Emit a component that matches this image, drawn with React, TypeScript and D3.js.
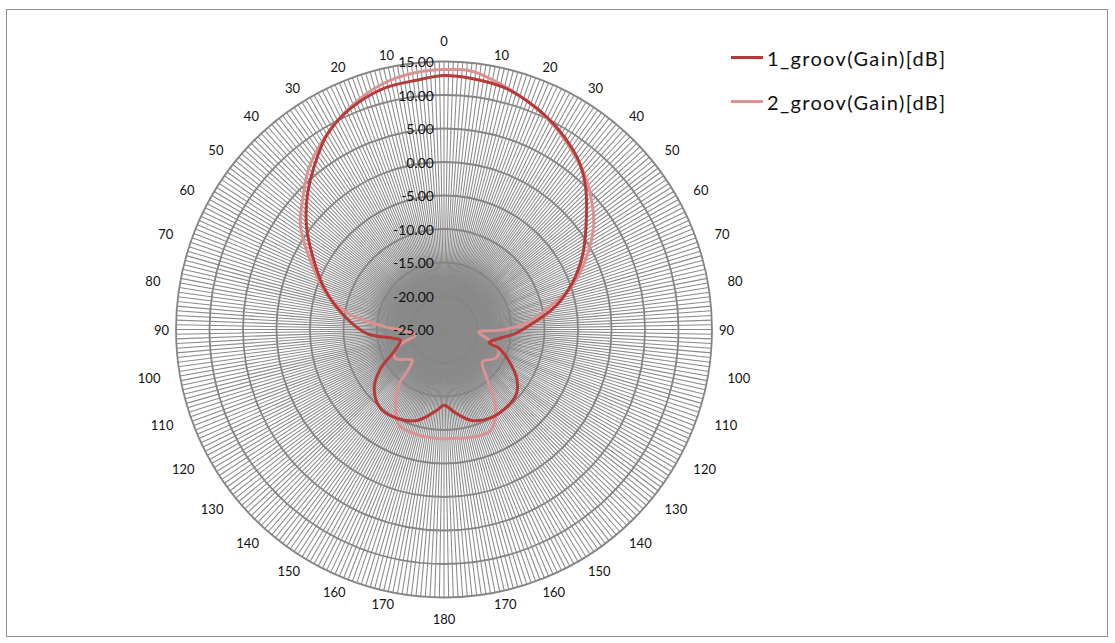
import React from "react";
import * as d3 from "d3";

// ---- data ----
const categoryCount = 360; // one spoke per degree
const ringValues = [-25, -20, -15, -10, -5, 0, 5, 10, 15];
const labelStep = 10;

// series 1: 1_groov(Gain)[dB]
const angles1 = [0, 6, 14, 20, 26, 32, 39, 45, 54, 62, 70, 78, 85, 93, 102, 106, 109, 116, 124, 132, 142, 153, 163, 172, 180, 185, 196, 208, 219, 230, 238.5, 246, 256, 260, 267, 278, 289, 299.5, 307, 314.5, 322, 329, 337, 346, 354];
const gain1 = [12.9, 12.7, 12.2, 11.3, 10.2, 8.9, 7.1, 4.9, 1.2, -1.6, -4.6, -7.9, -11.3, -14.3, -17.4, -18.0, -16.3, -14.2, -11.9, -10.5, -10.1, -10.1, -10.8, -12.4, -13.7, -12.9, -10.9, -10.0, -9.9, -11.4, -13.9, -16.8, -18.3, -17.4, -13.5, -9.9, -6.1, -2.4, 0.7, 3.6, 6.3, 8.9, 10.8, 12.1, 12.45];

// series 2: 2_groov(Gain)[dB]
const angles2 = [0, 6, 14, 22.5, 29, 36, 43, 50, 55.5, 62.5, 71, 77, 85, 90.5, 94.5, 103, 112, 119, 130, 137.5, 144, 150, 156, 165, 177, 182, 194, 205, 210.5, 219, 222, 226, 239, 246, 253, 259, 273, 279, 286.5, 299, 306, 313, 320, 328, 337, 346, 354];
const gain2 = [13.8, 13.8, 12.4, 10.8, 9.4, 7.7, 6.0, 3.9, 2.1, -0.9, -4.7, -8.4, -12.3, -16.3, -19.8, -18.1, -16.1, -16.2, -17.5, -15.8, -12.3, -9.7, -8.3, -8.4, -8.7, -8.7, -8.8, -9.2, -10.8, -14.3, -17.2, -18.4, -16.6, -16.8, -18.8, -20.7, -16.0, -10.9, -6.8, -1.8, 1.5, 3.8, 6.4, 8.7, 11.0, 12.8, 13.6];

const seriesNames = ["1_groov(Gain)[dB]", "2_groov(Gain)[dB]"];
const seriesColors = ["#B63A3A", "#DA9392"];

// ---- layout ----
const W = 1115;
const H = 643;
const cx = 444;
const cy = 329.5;
const R = 268;
const FONT = "Lato, 'Open Sans', sans-serif";

export default function App() {
  const r = d3.scaleLinear().domain([-25, 15]).range([0, R]);
  const ang = (deg: number) => (deg * Math.PI) / 180;

  const cats = d3.range(categoryCount);
  const s1 = angles1.map((a, i) => ({ a, v: gain1[i] }));
  const s2 = angles2.map((a, i) => ({ a, v: gain2[i] }));
  const line = d3
    .lineRadial<{ a: number; v: number }>()
    .angle((d) => ang(d.a))
    .radius((d) => r(d.v))
    .curve(d3.curveCatmullRomClosed.alpha(0.5));

  const labelCats = cats.filter((c) => c % labelStep === 0);
  const hub = r(-13); // where the dense spokes merge into solid grey

  return (
    <svg
      width={W}
      height={H}
      style={{ position: "absolute", left: 0, top: 0, background: "#fff" }}
      fontFamily={FONT}
    >
      <defs>
        <radialGradient id="hub" cx="0" cy="0" r={hub} gradientUnits="userSpaceOnUse">
          <stop offset="0" stopColor="#8a8a8a" stopOpacity={1} />
          <stop offset="0.55" stopColor="#8a8a8a" stopOpacity={1} />
          <stop offset="0.8" stopColor="#8a8a8a" stopOpacity={0.6} />
          <stop offset="1" stopColor="#8a8a8a" stopOpacity={0} />
        </radialGradient>
      </defs>
      <rect x={6.5} y={9.5} width={1101} height={627} fill="#fff" stroke="#8e8e8e" strokeWidth={1} />
      <g transform={`translate(${cx},${cy})`}>
        <circle r={hub} fill="url(#hub)" />
        {cats.map((c) => {
          const a = ang(c);
          return (
            <line
              key={"s" + c}
              x1={0}
              y1={0}
              x2={R * Math.sin(a)}
              y2={-R * Math.cos(a)}
              stroke="#8a8a8a"
              strokeWidth={1.05}
            />
          );
        })}
        {ringValues
          .filter((v) => r(v) > 0)
          .map((v) => (
            <circle key={"r" + v} r={r(v)} fill="none" stroke="#858585" strokeWidth={1.8} />
          ))}
        <path d={line(s2) || ""} fill="none" stroke={seriesColors[1]} strokeWidth={3} strokeLinejoin="round" />
        <path d={line(s1) || ""} fill="none" stroke={seriesColors[0]} strokeWidth={3} strokeLinejoin="round" />
        {ringValues.map((v) => (
          <text
            key={"v" + v}
            x={-10}
            y={-r(v)}
            textAnchor="end"
            dominantBaseline="central"
            fontSize={14}
            fill="#111"
          >
            {v.toFixed(2)}
          </text>
        ))}
        {labelCats.map((c) => {
          const a = ang(c);
          const s = Math.sin(a);
          const co = Math.cos(a);
          const lbl = c <= 180 ? c : 360 - c;
          const w = String(lbl).length * 7.5;
          const side = Math.abs(s) < 0.01 ? 0 : Math.sign(s);
          let px: number;
          let py: number;
          if (side === 0) {
            px = 0;
            py = -co * (R + 21);
          } else if (Math.abs(co) < 0.01) {
            px = side * (R + 7 + w / 2);
            py = 0;
          } else {
            px = (R + 20) * s + side * (w / 2);
            py = -(R + 11) * co;
          }
          return (
            <text
              key={"c" + c}
              x={px}
              y={py}
              textAnchor="middle"
              dominantBaseline="central"
              fontSize={13}
              fill="#111"
            >
              {lbl}
            </text>
          );
        })}
      </g>
      {seriesNames.map((n, i) => (
        <g key={n} transform={`translate(731,${57.5 + i * 44})`}>
          <line x1={0} x2={32} y1={0} y2={0} stroke={seriesColors[i]} strokeWidth={3} />
          <text
            x={36}
            y={0}
            dominantBaseline="central"
            fontSize={20}
            fill="#111"
            textLength={178}
            lengthAdjust="spacing"
          >
            {n}
          </text>
        </g>
      ))}
    </svg>
  );
}
